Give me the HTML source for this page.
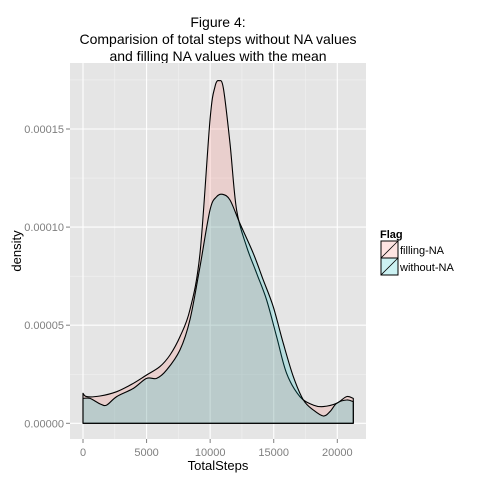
<!DOCTYPE html>
<html><head><meta charset="utf-8"><style>
body{margin:0;background:#fff;}
svg{display:block;font-family:"Liberation Sans",sans-serif;}
</style></head><body>
<svg id="chart" width="480" height="480" viewBox="0 0 480 480"></svg>
<script>
const xTicks=[0,5000,10000,15000,20000];
const xTickLabels=["0","5000","10000","15000","20000"];
const yTicks=[0,0.00005,0.0001,0.00015];
const yTickLabels=["0.00000","0.00005","0.00010","0.00015"];
const seriesNames=["filling-NA","without-NA"];
const fillingX=[0,290,1337,2650,3960,5000,6050,6840,7630,8410,9200,9990,10380,10700,11040,11560,12080,12870,13660,14440,15230,16010,17060,18110,18900,19950,20730,21260];
const fillingY=[1.53e-5,1.36e-5,1.39e-5,1.61e-5,2.04e-5,2.46e-5,2.89e-5,3.48e-5,4.42e-5,5.78e-5,8.66e-5,1.546e-4,1.716e-4,1.746e-4,1.707e-4,1.427e-4,1.087e-4,9.0e-5,7.64e-5,6.29e-5,4.42e-5,2.55e-5,1.36e-5,9.3e-6,8.5e-6,1.02e-5,1.36e-5,1.27e-5];
const withoutX=[0,550,1340,1860,2650,3960,5000,5790,6580,7630,8410,9200,9990,10510,10980,11560,12340,13390,14180,14960,15750,16540,17330,18110,18900,19420,19950,20730,21260];
const withoutY=[1.27e-5,1.27e-5,9.9e-6,9.3e-6,1.36e-5,1.78e-5,2.29e-5,2.29e-5,2.72e-5,3.74e-5,5.27e-5,7.98e-5,1.087e-4,1.155e-4,1.167e-4,1.138e-4,1.019e-4,8.66e-5,7.3e-5,5.95e-5,4.08e-5,2.38e-5,1.19e-5,6.8e-6,3.7e-6,5.9e-6,1.02e-5,1.19e-5,1.1e-5];

const NS="http://www.w3.org/2000/svg";
const svg=document.getElementById('chart');
const P={l:70,r:366,t:63,b:439};
const sx=v=>83+v*(337.3-83)/20000;
const sy=v=>423.3-v*(423.3-129)/0.00015;
function mk(tag,attrs,parent){const e=document.createElementNS(NS,tag);for(const k in attrs)e.setAttribute(k,attrs[k]);(parent||svg).appendChild(e);return e;}

const title=mk('text',{x:218,y:0,'text-anchor':'middle','font-size':14,fill:'#000'});


[["Figure 4:",27],["Comparision of total steps without NA values",44],["and filling NA values with the mean",61]].forEach(([t,y])=>{const s=mk('tspan',{x:218,y:y},title);s.textContent=t;});

const panel=mk('rect',{x:P.l,y:P.t,width:P.r-P.l,height:P.b-P.t,fill:'#E5E5E5'});



for(let i=0;i<xTicks.length;i++){const m=xTicks[i]+2500;const x=sx(m);if(x<P.r)mk('line',{x1:x,x2:x,y1:P.t,y2:P.b,stroke:'#F2F2F2','stroke-width':0.6});}
for(let i=0;i<yTicks.length;i++){[-0.000025,0.000025].forEach(d=>{const y=sy(yTicks[i]+d);if(y>P.t&&y<P.b&&!(i>0&&d<0))mk('line',{x1:P.l,x2:P.r,y1:y,y2:y,stroke:'#F2F2F2','stroke-width':0.6});});}
xTicks.forEach((v,i)=>{const x=sx(v);
 mk('line',{x1:x,x2:x,y1:P.t,y2:P.b,stroke:'#fff','stroke-width':1.1});
 mk('line',{x1:x,x2:x,y1:P.b,y2:P.b+4,stroke:'#7f7f7f'});
 const t=mk('text',{x:x,y:P.b+17,'text-anchor':'middle','font-size':11,fill:'#7f7f7f'});
 
 
 t.textContent=xTickLabels[i];});
yTicks.forEach((v,i)=>{const y=sy(v);
 mk('line',{x1:P.l,x2:P.r,y1:y,y2:y,stroke:'#fff','stroke-width':1.1});
 mk('line',{x1:P.l-4,x2:P.l,y1:y,y2:y,stroke:'#7f7f7f'});
 const t=mk('text',{x:P.l-6,y:y+4,'text-anchor':'end','font-size':11,fill:'#7f7f7f'});
 
 
 t.textContent=yTickLabels[i];});

function area(xs,ys,col,name){
 const pts=xs.map((x,i)=>[sx(x),sy(ys[i])]);
 let d=`M${sx(xs[0])},${sy(0)}L${pts[0][0]},${pts[0][1]}`;
 for(let i=0;i<pts.length-1;i++){
  const p0=pts[Math.max(i-1,0)],p1=pts[i],p2=pts[i+1],p3=pts[Math.min(i+2,pts.length-1)];
  const c1=[p1[0]+(p2[0]-p0[0])/6,p1[1]+(p2[1]-p0[1])/6];
  const c2=[p2[0]-(p3[0]-p1[0])/6,p2[1]-(p3[1]-p1[1])/6];
  d+=`C${c1[0].toFixed(1)},${c1[1].toFixed(1)} ${c2[0].toFixed(1)},${c2[1].toFixed(1)} ${p2[0].toFixed(1)},${p2[1].toFixed(1)}`;
 }
 d+=`L${sx(xs[xs.length-1])},${sy(0)}Z`;
 const p=mk('path',{d:d,fill:col,'fill-opacity':0.2,stroke:'#000','stroke-width':1.1,'stroke-linejoin':'round'});
 
 
}
area(fillingX,fillingY,'#F8766D','density-filling-na');
area(withoutX,withoutY,'#00BFC4','density-without-na');

const xt=mk('text',{x:218,y:470,'text-anchor':'middle','font-size':13,fill:'#000'});


xt.textContent='TotalSteps';
const yt=mk('text',{x:0,y:0,'text-anchor':'middle','font-size':13,fill:'#000',transform:'translate(21,251) rotate(-90)'});


yt.textContent='density';

const lt=mk('text',{x:380,y:238,'font-size':11,'font-weight':'bold',fill:'#000'});


lt.textContent='Flag';
const cols=['#F8766D','#00BFC4'];
seriesNames.forEach((n,i)=>{const y=241+i*17;
 const g=mk('g',{});
 
 
 mk('rect',{x:381,y:y,width:17,height:17,fill:'#fff'},g);
 mk('rect',{x:381,y:y,width:17,height:17,fill:cols[i],'fill-opacity':0.2,stroke:'#000','stroke-width':1},g);
 mk('line',{x1:381,y1:y+17,x2:398,y2:y,stroke:'#000','stroke-width':0.8},g);
 const t=mk('text',{x:400,y:y+13,'font-size':11,fill:'#000'},g);t.textContent=n;});
</script>
</body></html>
